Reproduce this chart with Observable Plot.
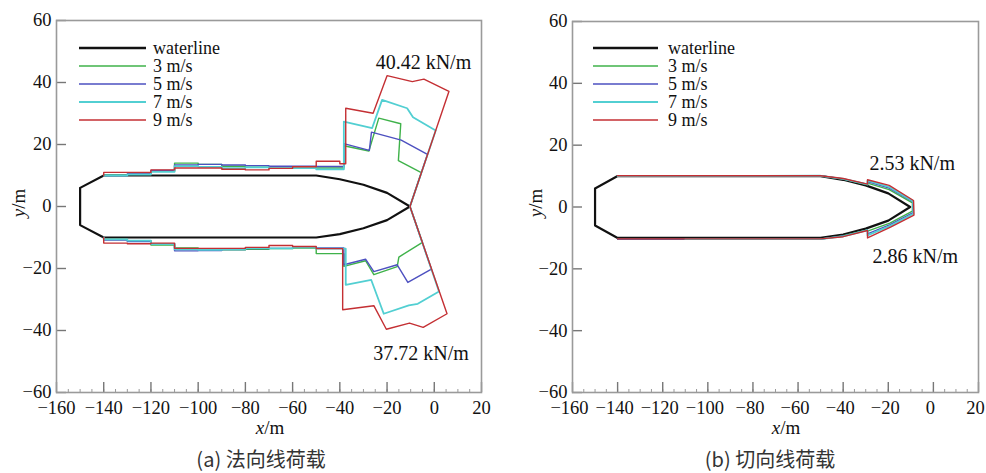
<!DOCTYPE html>
<html><head><meta charset="utf-8">
<script src="https://cdn.jsdelivr.net/npm/d3@7"></script>
<script src="https://cdn.jsdelivr.net/npm/@observablehq/plot@0.6"></script>
<style>
body{margin:0;background:#fff;width:986px;height:473px;position:relative;overflow:hidden;font-family:'Liberation Serif',serif;}
.panel{position:absolute;top:0;}
.panel svg text{font-family:'Liberation Serif',serif !important;}
.lab{position:absolute;font-family:'Liberation Serif',serif;font-size:19px;line-height:1;color:#111;white-space:nowrap;transform:translate(-50%,-50%);}
.ylab{transform:translate(-50%,-50%) rotate(-90deg);}
.cap{position:absolute;font-family:'Noto Sans CJK SC',sans-serif;font-size:20px;line-height:1;color:#333;white-space:nowrap;transform:translate(-50%,-50%);}
#legend{position:absolute;left:0;top:0;pointer-events:none;}
</style></head><body>
<div id="a" class="panel" style="left:0"></div>
<div id="b" class="panel" style="left:493px"></div>
<div class="lab" style="left:270px;top:427px"><i>x</i>/m</div>
<div class="lab" style="left:786px;top:427px"><i>x</i>/m</div>
<div class="lab ylab" style="left:18px;top:203px"><i>y</i>/m</div>
<div class="lab ylab" style="left:535px;top:203px"><i>y</i>/m</div>
<div class="cap" style="left:261px;top:459px">(a) 法向线荷载</div>
<div class="cap" style="left:770px;top:459px">(b) 切向线荷载</div>
<svg id="legend" width="986" height="473"></svg>
<script>
// ---- axes ----
const xTicks = [-160, -140, -120, -100, -80, -60, -40, -20, 0, 20];
const yTicks = [-60, -40, -20, 0, 20, 40, 60];
const xMinor = d3.range(-160, 21, 5);

// ---- waterline (hull outline) ----
const waterX = [-150, -140, -50, -40, -30, -20, -10.3, -20, -30, -40, -50, -140, -150, -150];
const waterY = [6, 10, 10, 8.8, 7, 4.4, 0, -4.4, -7, -8.9, -10, -10, -6, 6];

// ---- series ----
const seriesNames = ["waterline", "3 m/s", "5 m/s", "7 m/s", "9 m/s"];
const seriesColors = ["#111111", "#3fb24a", "#4d50c0", "#52cfd2", "#c42f33"];

// (a) normal line load: step segments along the flat hull
const stepX = [-140, -130, -120, -110, -100, -90, -80, -70, -60, -50, -40];
const topSteps3 = [10.2, 10.4, 11.4, 14.0, 13.6, 13.0, 12.7, 12.8, 12.8, 12.4];
const topSteps5 = [10.0, 10.5, 11.6, 13.4, 13.6, 13.4, 13.2, 13.0, 13.0, 12.9];
const topSteps7 = [10.0, 10.3, 11.2, 13.0, 12.8, 12.4, 12.6, 12.4, 12.4, 12.0];
const topSteps9 = [11.0, 11.0, 11.8, 12.4, 12.4, 12.0, 11.8, 12.3, 12.8, 14.6];
const botSteps3 = [-10.6, -11.0, -12.4, -13.4, -13.8, -14.0, -13.8, -13.6, -13.4, -15.2];
const botSteps5 = [-10.8, -11.3, -12.0, -14.3, -14.2, -13.9, -13.6, -13.5, -13.1, -13.4];
const botSteps7 = [-10.6, -11.0, -12.1, -13.8, -14.0, -13.8, -13.4, -13.5, -13.2, -13.6];
const botSteps9 = [-11.8, -12.0, -11.8, -13.5, -13.5, -13.5, -13.2, -12.6, -12.9, -13.6];
// bow parts (top, then bottom), passing through the bow tip
const bowTip = [-10.3, 0];
const topBow3 = [[-38.3, 12.4], [-38.3, 19.6], [-27.7, 17.9], [-23.5, 28.5], [-14.2, 26.7], [-15.2, 14.8], [-5.5, 10.9]];
const topBow5 = [[-38.3, 12.9], [-38.3, 20.3], [-27.5, 18.1], [-26.6, 24.0], [-14.0, 21.4], [-2.9, 16.8]];
const topBow7 = [[-38.3, 12.0], [-38.3, 27.4], [-26.3, 25.3], [-22.1, 34.4], [-11.5, 31.7], [-9.0, 28.8], [0.6, 24.5]];
const topBow9 = [[-40, 13.8], [-37.5, 13.8], [-37.5, 31.7], [-25.9, 30.1], [-20.0, 42.2], [-9.3, 40.3], [-4.4, 41.1], [6.2, 37.1]];
const botBow3 = [[-5.0, -11.6], [-15.0, -16.3], [-15.7, -19.4], [-25.6, -22.0], [-29.1, -17.5], [-38.3, -19.3], [-38.3, -15.2]];
const botBow5 = [[-1.2, -20.2], [-11.2, -24.5], [-15.7, -18.8], [-25.6, -21.0], [-29.1, -17.0], [-38.3, -18.8], [-38.3, -13.4]];
const botBow7 = [[2.0, -27.4], [-7.0, -31.4], [-10.8, -31.9], [-21.4, -34.6], [-26.7, -23.7], [-37.5, -25.3], [-37.5, -13.6]];
const botBow9 = [[5.4, -34.6], [-4.7, -39.0], [-10.5, -37.6], [-20.3, -39.6], [-25.6, -32.0], [-38.8, -33.3], [-38.8, -13.6]];

// (b) tangential line load outlines
const tan3 = [[-140, 10], [-50, 10.1], [-40, 9.0], [-29.2, 7.2], [-29.2, 7.7], [-19.6, 5.6], [-9.3, 1.3], [-9.3, -1.3], [-19.3, -5.2], [-29.2, -7.8], [-29.2, -7.4], [-40, -9.3], [-50, -10.4], [-140, -10.4]];
const tan5 = [[-140, 10], [-50, 10.1], [-40, 9.1], [-29.2, 7.3], [-29.2, 8.2], [-19.6, 6.1], [-9.1, 1.7], [-9.0, -1.8], [-19.2, -5.7], [-29.2, -8.7], [-29.2, -7.5], [-40, -9.4], [-50, -10.4], [-140, -10.4]];
const tan7 = [[-140, 10], [-50, 10.1], [-40, 9.1], [-29.2, 7.3], [-29.2, 8.5], [-19.6, 6.5], [-9.0, 1.9], [-8.9, -2.2], [-19.1, -6.1], [-29.2, -9.2], [-29.2, -7.5], [-40, -9.5], [-50, -10.4], [-110, -10.4]];
const tan9 = [[-140, 10.1], [-50, 10.1], [-40, 9.2], [-29.2, 7.4], [-29.2, 8.8], [-19.6, 7.0], [-8.8, 2.1], [-8.6, -2.6], [-19.0, -6.5], [-29.2, -10.0], [-29.2, -7.6], [-40, -9.6], [-50, -10.3], [-140, -10.3]];

// annotations
const annotA = ["40.42 kN/m", "37.72 kN/m"], annotAX = [-4.6, -5.6], annotAY = [46.5, -47.3];
const annotB = ["2.53 kN/m", "2.86 kN/m"], annotBX = [-9.4, -8.0], annotBY = [14.2, -15.9];

// ---- build ----
const waterline = waterX.map((x, i) => ({x, y: waterY[i]}));
function normalSeries(top, bot, topBow, botBow) {
  const pts = [[-140, 10]];
  top.forEach((v, i) => { pts.push([stepX[i], v], [stepX[i + 1], v]); });
  pts.push(...topBow, bowTip, ...botBow);
  for (let i = bot.length - 1; i >= 0; i--) pts.push([stepX[i + 1], bot[i]], [stepX[i], bot[i]]);
  pts.push([-140, -10]);
  return pts.map(([x, y]) => ({x, y}));
}
const normal = [
  normalSeries(topSteps3, botSteps3, topBow3, botBow3),
  normalSeries(topSteps5, botSteps5, topBow5, botBow5),
  normalSeries(topSteps7, botSteps7, topBow7, botBow7),
  normalSeries(topSteps9, botSteps9, topBow9, botBow9)
];
const tangential = [tan3, tan5, tan7, tan9].map(s => s.map(([x, y]) => ({x, y})));

const fmt = d => d < 0 ? "\u2212" + Math.abs(d) : String(d);
const FF = "Liberation Serif";

function panel(series, annot, ax, ay, mL, mR, mT, xdx) {
  const W = 493, H = 440, mB = 48;
  const fw = W - mL - mR, fh = H - mT - mB;
  const marks = [
    Plot.axisX(xTicks, {tickSize: 0, tickPadding: 8, tickFormat: fmt, label: null, fontFamily: FF, fontSize: 18.5, fill: "#111", dx: xdx}),
    Plot.axisY(yTicks, {tickSize: 0, tickPadding: 5, tickFormat: fmt, label: null, fontFamily: FF, fontSize: 18.5, fill: "#111"}),
    Plot.tickX(xMinor, {x: d => d, insetTop: fh - 3, stroke: "#999", strokeWidth: 1}),
    Plot.tickX(xTicks, {x: d => d, insetTop: fh - 10, stroke: "#777", strokeWidth: 1.4}),
    Plot.tickY(yTicks, {y: d => d, insetRight: fw - 10, stroke: "#777", strokeWidth: 1.4}),
    Plot.frame({stroke: "#9a9a9a", strokeWidth: 1.6}),
    Plot.line(waterline, {x: "x", y: "y", stroke: seriesColors[0], strokeWidth: 2.2}),
    ...series.map((s, i) => Plot.line(s, {x: "x", y: "y", stroke: seriesColors[i + 1], strokeWidth: i === 2 ? 1.8 : 1.4})),
    Plot.text(annot, {x: (d, i) => ax[i], y: (d, i) => ay[i], text: d => d, fontSize: 20, fontFamily: FF, fill: "#111"})
  ];
  return Plot.plot({
    width: W, height: H, marginLeft: mL, marginRight: mR, marginTop: mT, marginBottom: mB,
    x: {domain: [-160, 20]}, y: {domain: [-60, 60]},
    style: {fontFamily: "'Liberation Serif', serif", fontSize: "18.5px", color: "#111", background: "transparent", overflow: "visible"},
    marks
  });
}
document.getElementById("a").append(panel(normal, annotA, annotAX, annotAY, 56, 12, 20, 0));
document.getElementById("b").append(panel(tangential, annotB, annotBX, annotBY, 79, 8, 21, -3));

// ---- legends (inside each panel, top-left) ----
const legendRows = [48, 66, 84, 102, 120];
const legendBoxes = [{x0: 79, x1: 146, tx: 153}, {x0: 593, x1: 658, tx: 668}];
const lg = d3.select("#legend");
legendBoxes.forEach(b => {
  seriesNames.forEach((name, i) => {
    lg.append("line").attr("x1", b.x0).attr("x2", b.x1).attr("y1", legendRows[i]).attr("y2", legendRows[i])
      .attr("stroke", seriesColors[i]).attr("stroke-width", i === 0 ? 2.4 : (i === 3 ? 1.8 : 1.4));
    lg.append("text").attr("x", b.tx).attr("y", legendRows[i]).attr("dy", "0.33em")
      .attr("font-family", "'Liberation Serif', serif").attr("font-size", 18).attr("fill", "#111").text(name);
  });
});
</script>
</body></html>
